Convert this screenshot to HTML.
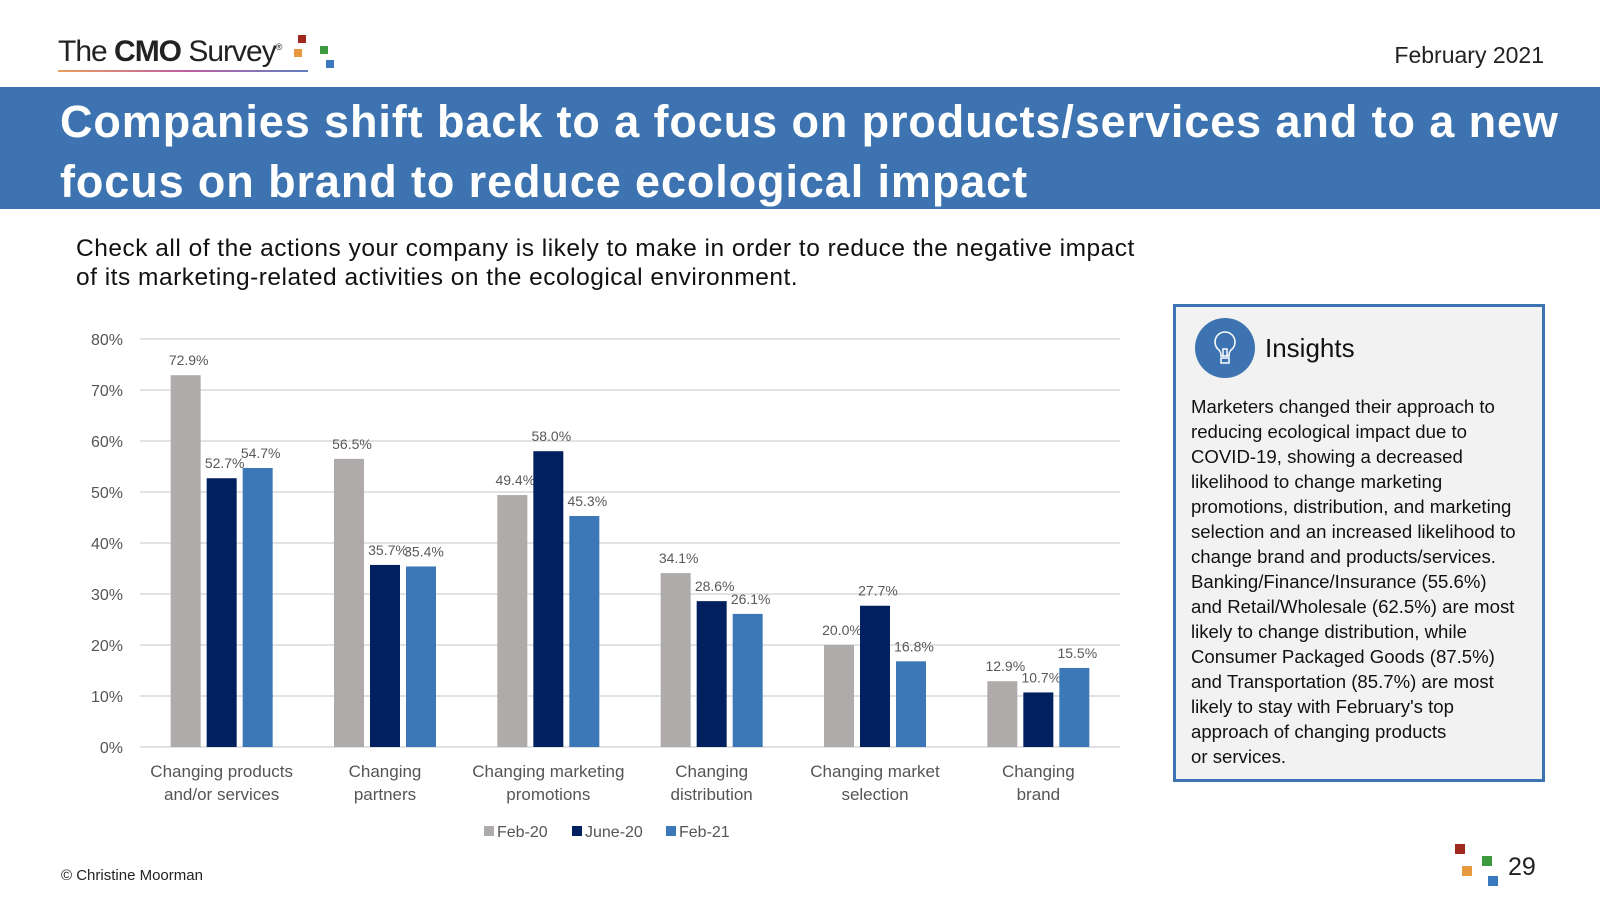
<!DOCTYPE html>
<html><head><meta charset="utf-8"><style>
body{margin:0;width:1600px;height:900px;background:#fff;font-family:"Liberation Sans",sans-serif;position:relative;overflow:hidden}
.a{position:absolute}
</style></head><body>
<div class="a" style="left:58px;top:35px;font-size:30px;color:#222;letter-spacing:-1px">The <b>CMO</b> Survey<sup style="font-size:9px">®</sup></div>
<div class="a" style="left:58px;top:70px;width:250px;height:2px;background:linear-gradient(90deg,#e8a060,#c060a0,#6080c0)"></div>
<div class="a" style="left:298px;top:35px;width:8px;height:8px;background:#a0281e"></div>
<div class="a" style="left:294px;top:49px;width:8px;height:8px;background:#e8983e"></div>
<div class="a" style="left:320px;top:46px;width:8px;height:8px;background:#3e9a3e"></div>
<div class="a" style="left:326px;top:60px;width:8px;height:8px;background:#3a78c0"></div>
<div class="a" style="right:56px;top:42px;font-size:23px;color:#222">February 2021</div>
<div class="a" style="left:0;top:87px;width:1600px;height:122px;background:#3c73b0"></div>
<div class="a" style="left:60px;top:92px;font-size:45px;font-weight:bold;color:#fff;line-height:60px;letter-spacing:0.9px;width:1540px;white-space:nowrap">Companies shift back to a focus on products/services and to a new<br>focus on brand to reduce ecological impact</div>
<div class="a" style="left:76px;top:234px;font-size:24.5px;color:#111;line-height:29px;letter-spacing:0.5px;white-space:nowrap">Check all of the actions your company is likely to make in order to reduce the negative impact<br>of its marketing-related activities on the ecological environment.</div>
<svg class="a" style="left:0;top:0" width="1160" height="900" id="chart"></svg>
<div class="a" style="left:1173px;top:304px;width:366px;height:472px;border:3px solid #3c73b0;background:#f2f2f2"></div>
<svg class="a" style="left:1194px;top:317px" width="62" height="62"><circle cx="31" cy="31" r="30" fill="#3c73b0"/><path d="M31 15a10 10 0 0 0-6 18c2 2 2 4 2 6h8c0-2 0-4 2-6a10 10 0 0 0-6-18zM27 41h8v5h-8z M29 39v-7h4v7" fill="none" stroke="#fff" stroke-width="1.5"/></svg>
<div class="a" style="left:1265px;top:333px;font-size:26px;color:#111">Insights</div>
<div class="a" style="left:1191px;top:394px;font-size:18.6px;line-height:25px;color:#111;width:345px;white-space:nowrap">Marketers changed their approach to<br>reducing ecological impact due to<br>COVID-19, showing a decreased<br>likelihood to change marketing<br>promotions, distribution, and marketing<br>selection and an increased likelihood to<br>change brand and products/services.<br>Banking/Finance/Insurance (55.6%)<br>and Retail/Wholesale (62.5%) are most<br>likely to change distribution, while<br>Consumer Packaged Goods (87.5%)<br>and Transportation (85.7%) are most<br>likely to stay with February's top<br>approach of changing products<br>or services.</div>
<div class="a" style="left:61px;top:867px;font-size:15px;color:#222">© Christine Moorman</div>
<div class="a" style="left:1455px;top:844px;width:10px;height:10px;background:#a0281e"></div>
<div class="a" style="left:1462px;top:866px;width:10px;height:10px;background:#e8983e"></div>
<div class="a" style="left:1482px;top:856px;width:10px;height:10px;background:#3e9a3e"></div>
<div class="a" style="left:1488px;top:876px;width:10px;height:10px;background:#3a78c0"></div>
<div class="a" style="left:1508px;top:853px;font-size:25px;color:#222">29</div>
<script>
const categories=[["Changing products","and/or services"],["Changing","partners"],["Changing marketing","promotions"],["Changing","distribution"],["Changing market","selection"],["Changing","brand"]];
const seriesNames=["Feb-20","June-20","Feb-21"];
const feb20=[72.9,56.5,49.4,34.1,20.0,12.9];
const june20=[52.7,35.7,58.0,28.6,27.7,10.7];
const feb21=[54.7,35.4,45.3,26.1,16.8,15.5];
const yTicks=[0,10,20,30,40,50,60,70,80];
const colors=["#afabab","#002060","#3c77b7"];
const svg=document.getElementById('chart');
const NS="http://www.w3.org/2000/svg";
const x0=140,x1=1120,y0=747,y80=339;
const y=v=>y0-(v/80)*(y0-y80);
const gw=(x1-x0)/categories.length;
function mk(t,a,txt){const e=document.createElementNS(NS,t);for(const k in a)e.setAttribute(k,a[k]);if(txt!==undefined)e.textContent=txt;svg.appendChild(e);return e;}
yTicks.forEach(t=>{
 const l=mk('line',{x1:x0,x2:x1,y1:y(t),y2:y(t),stroke:'#d9d9d9','stroke-width':1.5});
 
 
 const tx=mk('text',{x:123,y:y(t)+6,'text-anchor':'end','font-size':16,fill:'#555'},t+'%');
 
 
});
const all=[feb20,june20,feb21];
categories.forEach((c,i)=>{
 const cx=x0+gw*(i+0.5);
 all.forEach((s,j)=>{
  const bx=cx-51+j*36;
  const r=mk('rect',{x:bx,y:y(s[i]),width:30,height:y0-y(s[i]),fill:colors[j]});
  
  
  const t=mk('text',{x:bx+18,y:y(s[i])-10,'text-anchor':'middle','font-size':14,fill:'#595959'},s[i].toFixed(1)+'%');
  
  
 });
 c.forEach((ln,k)=>{
  const t=mk('text',{x:cx,y:777+k*23,'text-anchor':'middle','font-size':17,fill:'#555'},ln);
  
  
 });
});
seriesNames.forEach((n,j)=>{
 const lx=[484,572,666][j];
 const r=mk('rect',{x:lx,y:826,width:10,height:10,fill:colors[j]});
 
 
 const t=mk('text',{x:lx+13,y:837,'font-size':16,fill:'#555'},n);
 
 
});
</script>
</body></html>
